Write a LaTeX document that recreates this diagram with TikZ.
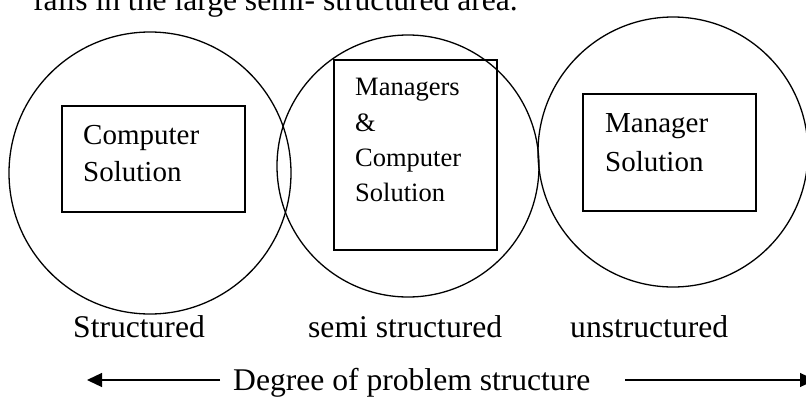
\documentclass[tikz,border=0pt]{standalone}
\usepackage{fontspec}
\setmainfont{Liberation Serif}
\usetikzlibrary{arrows.meta}
\tikzset{
  ring/.style={draw, circle, line width=1.3pt, inner sep=0pt},
  sbox/.style={draw, rectangle, line width=1.4pt, inner sep=0pt},
  lbl/.style={anchor=base west, inner sep=0pt},
  boxtxt/.style={lbl, font=\fontsize{29}{34}\selectfont},
  midtxt/.style={lbl, font=\fontsize{26.5}{31}\selectfont},
  bigtxt/.style={lbl, font=\fontsize{31.6}{38}\selectfont},
  arr/.style={line width=1.3pt, -{Triangle[length=15pt,width=14pt]}}
}
\begin{document}
\begin{tikzpicture}[x=1pt,y=-1pt]
\useasboundingbox[fill=white] (0,0) rectangle (806,399);
% top (cut) sentence
\node[bigtxt] (top) at (33,10) {falls in the large semi- structured area.};
% circles
\node[ring, minimum size=282pt] (c1) at (150,173) {};
\node[ring, minimum size=262pt] (c2) at (408,166) {};
\node[ring, minimum size=270pt] (c3) at (673,152) {};
% boxes
\node[sbox, minimum width=183pt, minimum height=106pt] (b1) at (153.5,159) {};
\node[sbox, minimum width=163pt, minimum height=190pt] (b2) at (415.5,155) {};
\node[sbox, minimum width=173pt, minimum height=117pt] (b3) at (669.5,152.5) {};
% box texts
\node[boxtxt] (t11) at (83,144) {Computer};
\node[boxtxt] (t12) at (83,181) {Solution};
\node[midtxt] (t21) at (355,95) {Managers};
\node[midtxt] (t22) at (355,131) {\&};
\node[midtxt] (t23) at (355,166) {Computer};
\node[midtxt] (t24) at (355,201) {Solution};
\node[boxtxt] (t31) at (605,132) {Manager};
\node[boxtxt] (t32) at (605,171) {Solution};
% labels
\node[bigtxt] (l1) at (73,337) {Structured};
\node[bigtxt] (l2) at (308,337) {semi structured};
\node[bigtxt] (l3) at (570,337) {unstructured};
\node[bigtxt] (deg) at (233,390) {Degree of problem structure};
% arrows
\coordinate (la) at (220,380);
\coordinate (lt) at (87,380);
\coordinate (ra) at (625,380);
\coordinate (rt) at (815,380);
\draw[arr] (la) -- (lt);
\draw[arr] (ra) -- (rt);
\end{tikzpicture}
\end{document}
